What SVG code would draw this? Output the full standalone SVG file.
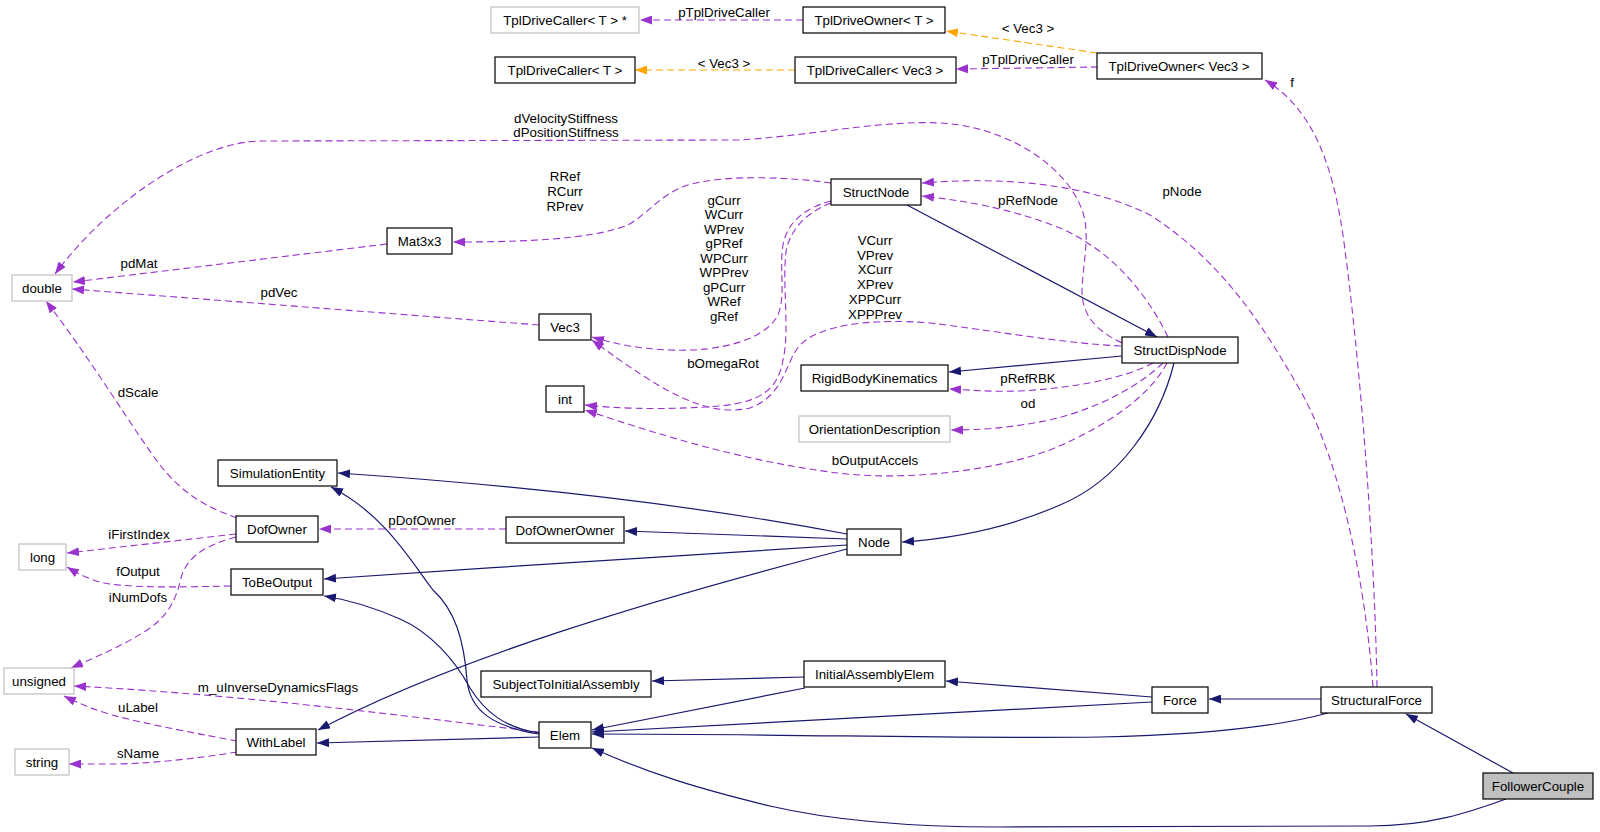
<svg xmlns="http://www.w3.org/2000/svg" width="1600" height="832" viewBox="0 0 1600 832">
<style>
text{font-family:"Liberation Sans",Arial,Helvetica,sans-serif;font-size:13.3px;fill:#000}
.nt{text-anchor:middle}
.lb{text-anchor:middle}
rect.b{fill:#fff;stroke:#000;stroke-width:1.2}
rect.g{fill:#fff;stroke:#bfbfbf;stroke-width:1.2}
rect.s{fill:#bfbfbf;stroke:#000;stroke-width:1.2}
path.i{fill:none;stroke:#191970;stroke-width:1.2;marker-end:url(#an)}
path.u{fill:none;stroke:#9a32cd;stroke-width:1.1;stroke-dasharray:7,4;marker-end:url(#ap)}
path.t{fill:none;stroke:#ffa500;stroke-width:1.1;stroke-dasharray:7,4;marker-end:url(#ao)}
</style>
<defs>
<marker id="an" viewBox="0 0 12 9" markerWidth="12" markerHeight="9" refX="12" refY="4.5" orient="auto" markerUnits="userSpaceOnUse"><path d="M0,0 L12,4.5 L0,9 z" fill="#191970"/></marker>
<marker id="ap" viewBox="0 0 12 9" markerWidth="12" markerHeight="9" refX="12" refY="4.5" orient="auto" markerUnits="userSpaceOnUse"><path d="M0,0 L12,4.5 L0,9 z" fill="#9a32cd"/></marker>
<marker id="ao" viewBox="0 0 12 9" markerWidth="12" markerHeight="9" refX="12" refY="4.5" orient="auto" markerUnits="userSpaceOnUse"><path d="M0,0 L12,4.5 L0,9 z" fill="#ffa500"/></marker>
</defs>
<rect width="1600" height="832" fill="#fff"/>
<g id="edges">
<path class="u" d="M803,20 L640,20"/>
<path class="t" d="M1097,53 L946,31"/>
<path class="t" d="M795,70 L635,70"/>
<path class="u" d="M1098,67 L956,69"/>
<path class="u" d="M1377,687 C1375,560 1362,380 1345,250 C1335,170 1315,110 1265,80"/>
<path class="u" d="M1373,687 C1365,580 1340,460 1300,390 C1260,320 1220,260 1150,215 C1090,185 1010,176 922,183"/>
<path class="u" d="M1122,343 C1095,330 1082,315 1082,290 C1083,260 1092,230 1080,205 C1065,170 1020,135 960,125 C900,116 820,135 740,140 L262,141 C200,141 110,200 55,274"/>
<path class="u" d="M831,183 C790,177 720,174 685,186 C660,195 650,212 628,225 C590,240 520,242 453,242"/>
<path class="u" d="M387,244 L73,282"/>
<path class="u" d="M539,325 L72,289"/>
<path class="u" d="M831,201 C805,208 787,222 783,245 C779,270 786,295 778,315 C765,340 720,352 670,350 C640,349 615,344 592,337"/>
<path class="u" d="M831,203 C808,212 790,228 786,252 C782,285 790,330 783,360 C778,390 760,402 720,406 C680,409 630,410 585,405"/>
<path class="u" d="M1121,346 C1060,343 990,330 930,323 C870,318 820,325 800,345 C785,362 785,395 750,408 C705,418 660,390 592,340"/>
<path class="u" d="M1167,363 C1150,395 1110,425 1050,450 C990,472 900,482 830,472 C740,460 660,435 585,410"/>
<path class="u" d="M1153,363 C1125,378 1075,388 1020,391 C990,392 970,390 949,389"/>
<path class="u" d="M1163,363 C1140,385 1100,408 1050,420 C1010,428 980,430 951,430"/>
<path class="u" d="M1168,337 C1145,290 1110,250 1060,228 C1010,208 960,200 922,196"/>
<path class="i" d="M907,205 L1157,337"/>
<path class="i" d="M1122,356 L949,372"/>
<path class="i" d="M1174,363 C1160,420 1120,480 1060,505 C1010,527 960,538 902,542"/>
<path class="i" d="M847,534 C720,510 560,488 338,473"/>
<path class="i" d="M847,539 L625,531"/>
<path class="i" d="M847,545 C700,554 500,567 324,579"/>
<path class="i" d="M847,549 C650,600 450,660 318,730"/>
<path class="u" d="M506,529 L319,529"/>
<path class="u" d="M237,518 C200,505 180,490 160,465 C130,425 95,365 46,301"/>
<path class="u" d="M236,534 L67,553"/>
<path class="u" d="M231,586 C180,587 140,588 110,584 C95,582 80,575 67,567"/>
<path class="u" d="M236,537 C205,545 186,558 181,578 C176,600 168,615 150,628 C125,645 100,655 71,668"/>
<path class="u" d="M539,732 C420,718 250,695 74,686"/>
<path class="u" d="M237,741 C200,734 150,725 112,715 C95,710 80,704 64,696"/>
<path class="u" d="M237,752 C200,758 150,764 110,764 L69,764"/>
<path class="i" d="M539,737 L317,743"/>
<path class="i" d="M539,734 C495,727 470,712 467,680 C464,640 455,610 433,590 C410,560 385,515 331,487"/>
<path class="i" d="M539,733 C505,728 485,712 470,688 C455,660 430,632 400,619 C375,608 350,600 324,596"/>
<path class="i" d="M804,677 L652,681"/>
<path class="i" d="M805,688 L592,730"/>
<path class="i" d="M1152,697 L946,681"/>
<path class="i" d="M1152,702 L592,732"/>
<path class="i" d="M1321,699 L1209,699"/>
<path class="i" d="M1328,713 C1280,726 1200,735 1100,737 C950,739 800,734 592,734"/>
<path class="i" d="M1513,773 L1406,714"/>
<path class="i" d="M1506,799 C1470,812 1430,826 1370,826 L1000,827 C900,827 830,820 770,806 C700,789 650,774 592,748"/>
</g>
<g id="edge-labels">
<text class="lb" x="724" y="16.5">pTplDriveCaller</text>
<text class="lb" x="1028" y="32.5">&lt; Vec3 &gt;</text>
<text class="lb" x="724" y="67.5">&lt; Vec3 &gt;</text>
<text class="lb" x="1028" y="63.5">pTplDriveCaller</text>
<text class="lb" x="1292" y="86.5">f</text>
<text class="lb" x="566" y="122.5">dVelocityStiffness</text>
<text class="lb" x="566" y="137">dPositionStiffness</text>
<text class="lb" x="565" y="180.5">RRef</text>
<text class="lb" x="565" y="195.5">RCurr</text>
<text class="lb" x="565" y="210.5">RPrev</text>
<text class="lb" x="1182" y="195.5">pNode</text>
<text class="lb" x="1028" y="204.5">pRefNode</text>
<text class="lb" x="724" y="204.5">gCurr</text>
<text class="lb" x="724" y="218.5">WCurr</text>
<text class="lb" x="724" y="233.5">WPrev</text>
<text class="lb" x="724" y="247.5">gPRef</text>
<text class="lb" x="724" y="262.5">WPCurr</text>
<text class="lb" x="724" y="276.5">WPPrev</text>
<text class="lb" x="724" y="291.5">gPCurr</text>
<text class="lb" x="724" y="306">WRef</text>
<text class="lb" x="724" y="320.5">gRef</text>
<text class="lb" x="875" y="244.5">VCurr</text>
<text class="lb" x="875" y="259.5">VPrev</text>
<text class="lb" x="875" y="273.5">XCurr</text>
<text class="lb" x="875" y="288.5">XPrev</text>
<text class="lb" x="875" y="303.5">XPPCurr</text>
<text class="lb" x="875" y="318.5">XPPPrev</text>
<text class="lb" x="139" y="267.5">pdMat</text>
<text class="lb" x="279" y="296.5">pdVec</text>
<text class="lb" x="723" y="367.5">bOmegaRot</text>
<text class="lb" x="1028" y="382.5">pRefRBK</text>
<text class="lb" x="1028" y="407.5">od</text>
<text class="lb" x="875" y="464.5">bOutputAccels</text>
<text class="lb" x="138" y="396.5">dScale</text>
<text class="lb" x="422" y="525">pDofOwner</text>
<text class="lb" x="139" y="538.5">iFirstIndex</text>
<text class="lb" x="138" y="575.5">fOutput</text>
<text class="lb" x="138" y="602">iNumDofs</text>
<text class="lb" x="278" y="691.5">m_uInverseDynamicsFlags</text>
<text class="lb" x="138" y="711.5">uLabel</text>
<text class="lb" x="138" y="757.5">sName</text>
</g>
<g id="n-tdc-ptr"><rect class="g" x="491" y="7" width="148" height="26"/><text class="nt" x="565" y="24.5">TplDriveCaller&lt; T &gt; *</text></g>
<g id="n-tdo-t"><rect class="b" x="803" y="7" width="142" height="26"/><text class="nt" x="874" y="24.5">TplDriveOwner&lt; T &gt;</text></g>
<g id="n-tdc-t"><rect class="b" x="495" y="57" width="140" height="26"/><text class="nt" x="565" y="74.5">TplDriveCaller&lt; T &gt;</text></g>
<g id="n-tdc-vec3"><rect class="b" x="795" y="57" width="161" height="26"/><text class="nt" x="875" y="74.5">TplDriveCaller&lt; Vec3 &gt;</text></g>
<g id="n-tdo-vec3"><rect class="b" x="1097" y="53" width="165" height="26"/><text class="nt" x="1179" y="70.5">TplDriveOwner&lt; Vec3 &gt;</text></g>
<g id="n-structnode"><rect class="b" x="831" y="179" width="90" height="26"/><text class="nt" x="876" y="196.5">StructNode</text></g>
<g id="n-mat3x3"><rect class="b" x="387" y="228" width="65" height="26"/><text class="nt" x="419.5" y="245.5">Mat3x3</text></g>
<g id="n-double"><rect class="g" x="12" y="275" width="60" height="26"/><text class="nt" x="42" y="292.5">double</text></g>
<g id="n-vec3"><rect class="b" x="539" y="314" width="52" height="26"/><text class="nt" x="565" y="331.5">Vec3</text></g>
<g id="n-structdispnode"><rect class="b" x="1122" y="337" width="116" height="26"/><text class="nt" x="1180" y="354.5">StructDispNode</text></g>
<g id="n-rbk"><rect class="b" x="801" y="365" width="147" height="26"/><text class="nt" x="874.5" y="382.5">RigidBodyKinematics</text></g>
<g id="n-int"><rect class="b" x="546" y="386" width="38" height="26"/><text class="nt" x="565" y="403.5">int</text></g>
<g id="n-orientdesc"><rect class="g" x="799" y="416" width="151" height="26"/><text class="nt" x="874.5" y="433.5">OrientationDescription</text></g>
<g id="n-simentity"><rect class="b" x="218" y="460" width="119" height="26"/><text class="nt" x="277.5" y="477.5">SimulationEntity</text></g>
<g id="n-dofowner"><rect class="b" x="236" y="516" width="82" height="26"/><text class="nt" x="277" y="533.5">DofOwner</text></g>
<g id="n-dofownerowner"><rect class="b" x="506" y="517" width="118" height="26"/><text class="nt" x="565" y="534.5">DofOwnerOwner</text></g>
<g id="n-node"><rect class="b" x="847" y="529" width="54" height="26"/><text class="nt" x="874" y="546.5">Node</text></g>
<g id="n-long"><rect class="g" x="19" y="544" width="47" height="26"/><text class="nt" x="42.5" y="561.5">long</text></g>
<g id="n-tobeoutput"><rect class="b" x="231" y="569" width="92" height="26"/><text class="nt" x="277" y="586.5">ToBeOutput</text></g>
<g id="n-unsigned"><rect class="g" x="4" y="668" width="70" height="26"/><text class="nt" x="39" y="685.5">unsigned</text></g>
<g id="n-stia"><rect class="b" x="481" y="671" width="170" height="26"/><text class="nt" x="566" y="688.5">SubjectToInitialAssembly</text></g>
<g id="n-iae"><rect class="b" x="804" y="661" width="141" height="26"/><text class="nt" x="874.5" y="678.5">InitialAssemblyElem</text></g>
<g id="n-force"><rect class="b" x="1152" y="687" width="56" height="26"/><text class="nt" x="1180" y="704.5">Force</text></g>
<g id="n-structuralforce"><rect class="b" x="1321" y="687" width="111" height="26"/><text class="nt" x="1376.5" y="704.5">StructuralForce</text></g>
<g id="n-withlabel"><rect class="b" x="236" y="729" width="80" height="26"/><text class="nt" x="276" y="746.5">WithLabel</text></g>
<g id="n-elem"><rect class="b" x="539" y="722" width="52" height="26"/><text class="nt" x="565" y="739.5">Elem</text></g>
<g id="n-string"><rect class="g" x="15" y="749" width="54" height="26"/><text class="nt" x="42" y="766.5">string</text></g>
<g id="n-followercouple"><rect class="s" x="1483" y="773" width="110" height="26"/><text class="nt" x="1538" y="790.5">FollowerCouple</text></g>
</svg>
